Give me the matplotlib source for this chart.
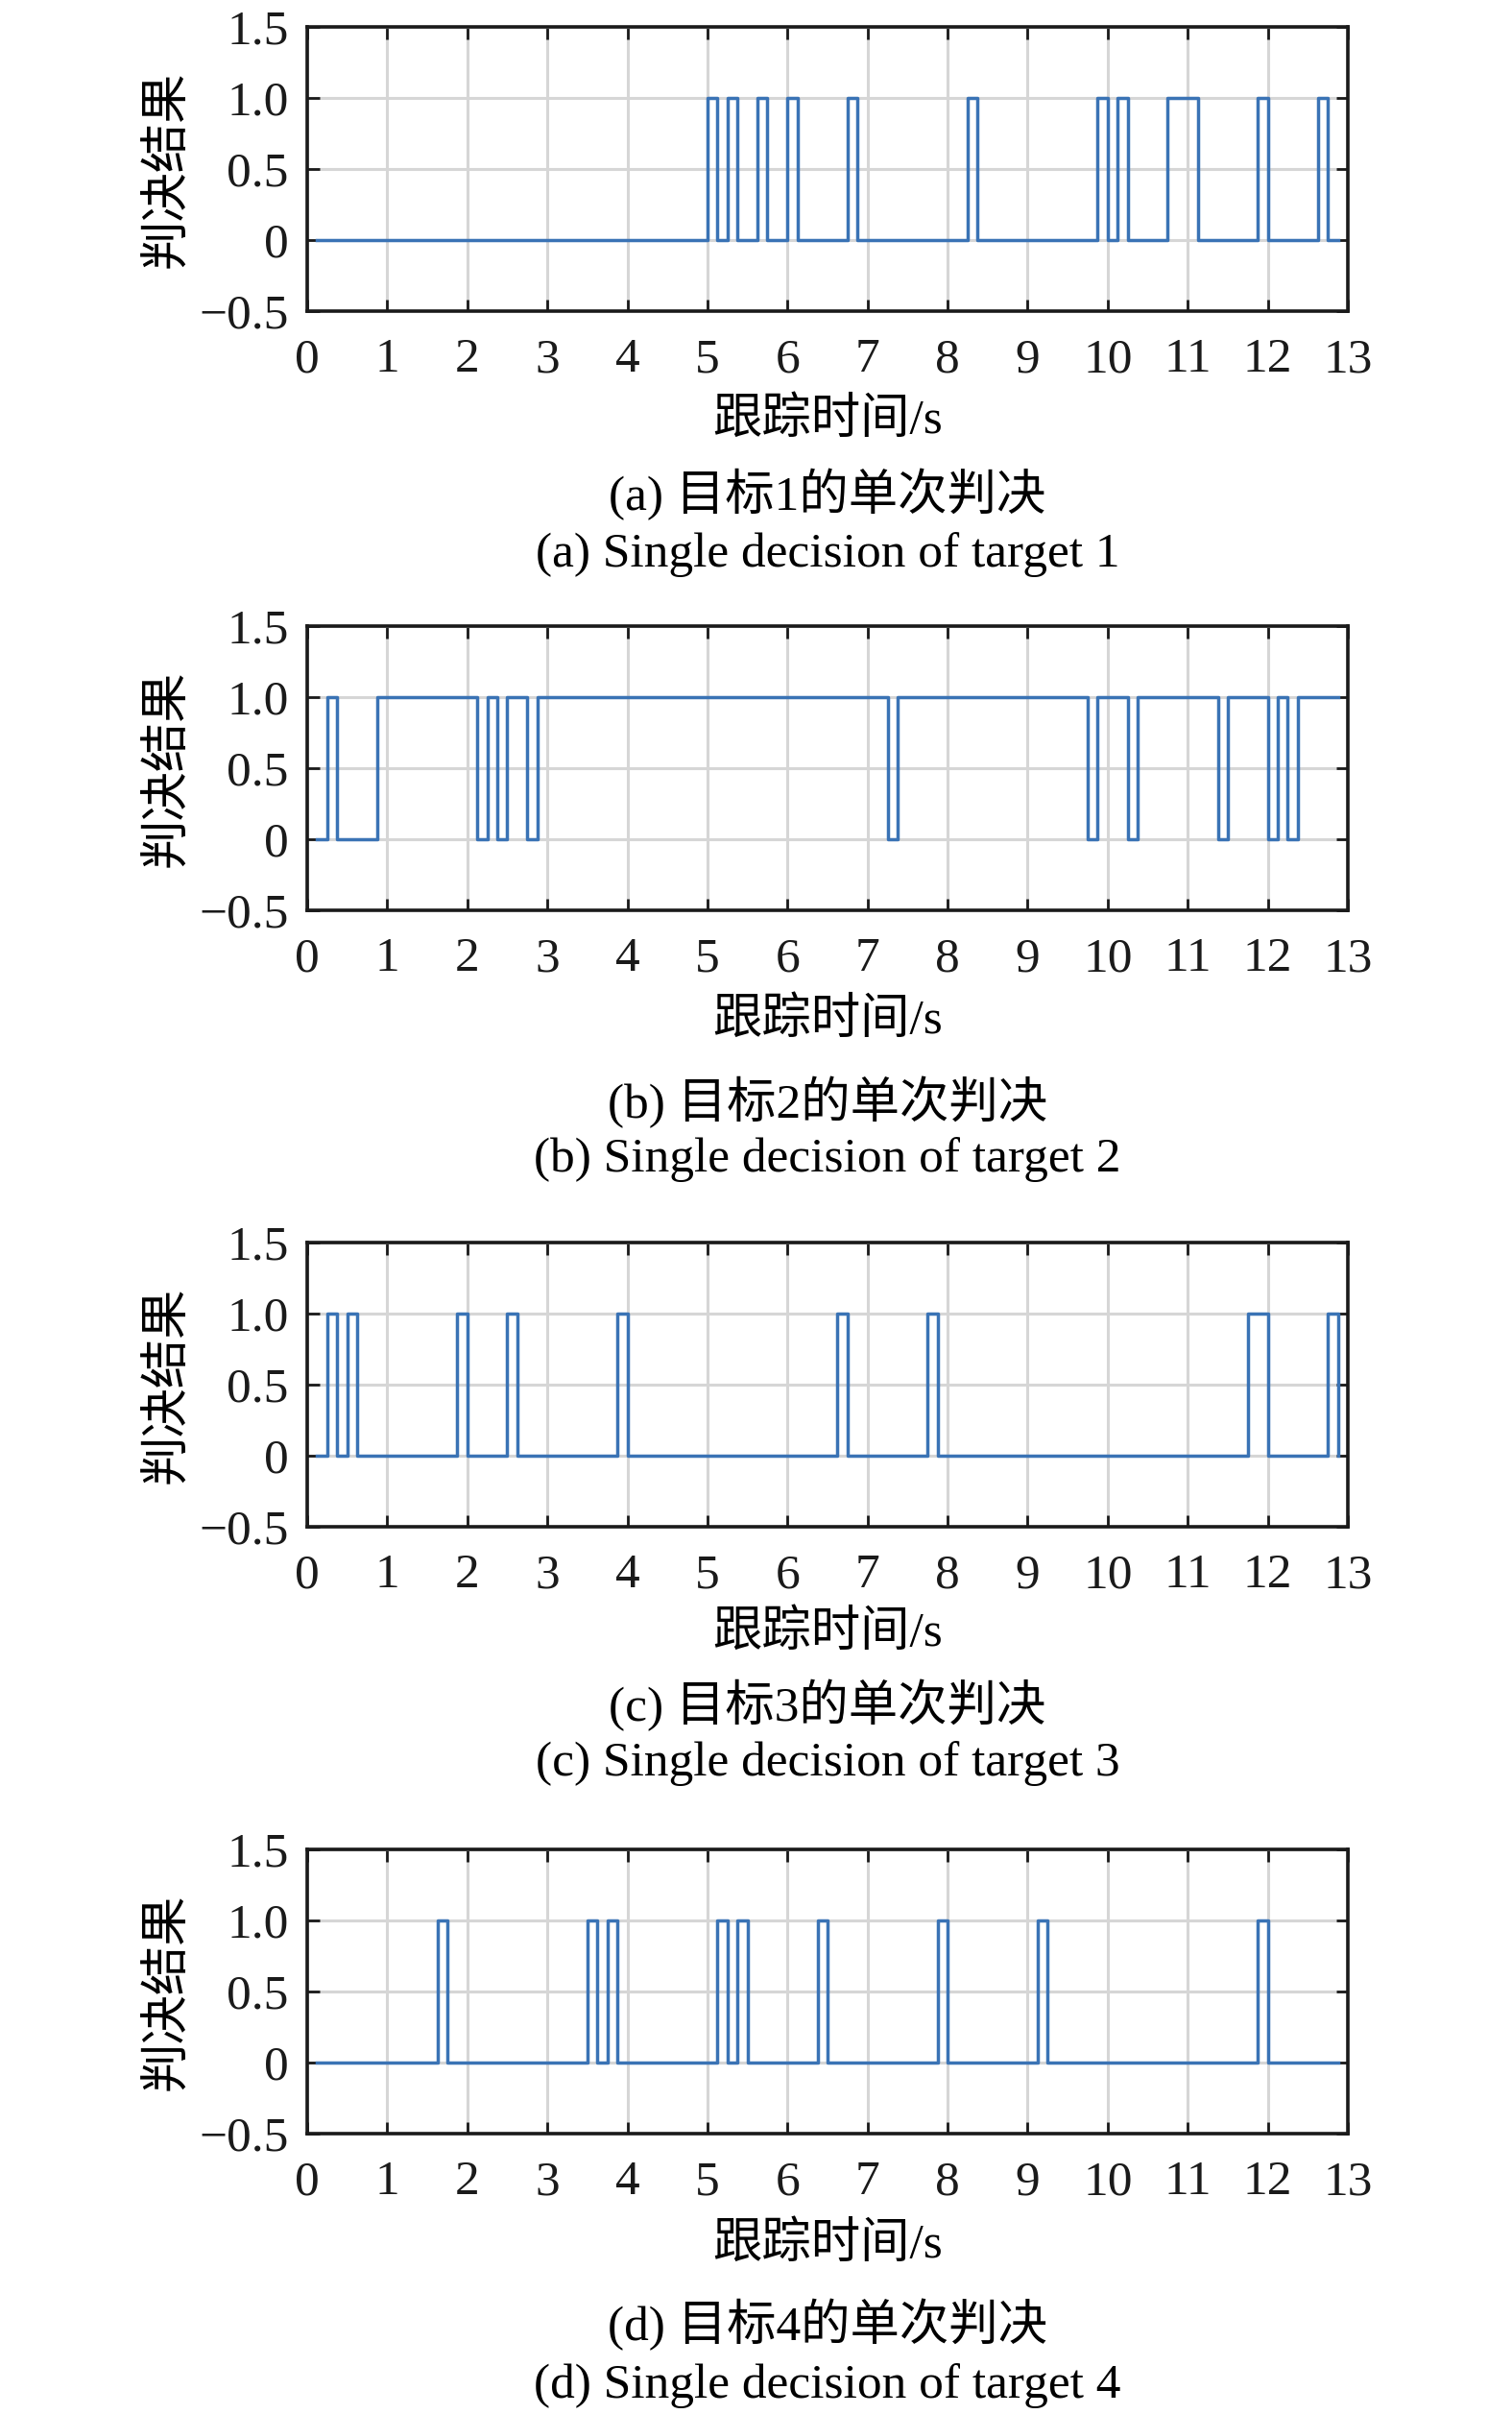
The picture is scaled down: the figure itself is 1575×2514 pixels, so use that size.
import numpy as np
import matplotlib
matplotlib.use("Agg")
import matplotlib.pyplot as plt

plt.rcParams['font.family'] = ['Liberation Serif', 'Noto Sans CJK SC', 'DejaVu Sans']

# decision = 1 intervals (start, end) in seconds
target1_on = [(5.0, 5.125), (5.25, 5.375), (5.625, 5.75), (6.0, 6.125), (6.75, 6.875),
              (8.25, 8.375), (9.875, 10.0), (10.125, 10.25), (10.75, 11.125),
              (11.875, 12.0), (12.625, 12.75)]
target2_on = [(0.25, 0.375), (0.875, 2.125), (2.25, 2.375), (2.5, 2.75), (2.875, 7.25),
              (7.375, 9.75), (9.875, 10.25), (10.375, 11.375), (11.5, 12.0),
              (12.125, 12.25), (12.375, 13.0)]
target3_on = [(0.25, 0.375), (0.5, 0.625), (1.875, 2.0), (2.5, 2.625), (3.875, 4.0),
              (6.625, 6.75), (7.75, 7.875), (11.75, 12.0), (12.75, 12.875)]
target4_on = [(1.625, 1.75), (3.5, 3.625), (3.75, 3.875), (5.125, 5.25), (5.375, 5.5),
              (6.375, 6.5), (7.875, 8.0), (9.125, 9.25), (11.875, 12.0)]

all_on = [target1_on, target2_on, target3_on, target4_on]
letters = ['a', 'b', 'c', 'd']

x_ticks = list(range(0, 14))
y_ticks = [-0.5, 0, 0.5, 1.0, 1.5]
y_ticklabels = ['\u22120.5', '0', '0.5', '1.0', '1.5']

# sampling instants of the single decisions
t = np.arange(1, 104) * 0.125

# layout (pixels in a 1575 x 2514 picture)
W, H = 1575, 2514
ax_left, ax_right = 320, 1404
ax_tops = [28, 652, 1294, 1926]
ax_h = 296
xlabel_y = [438, 1063, 1701, 2338]
cn_y = [515, 1148, 1776, 2421]
en_y = [578, 1208, 1837, 2485]

line_color = '#3a73b5'
fs_tick = 37
fs_text = 37

fig = plt.figure(figsize=(W / 100, H / 100), dpi=100)
xc = (ax_left + ax_right) / 2 / W

for i, on in enumerate(all_on):
    bottom = 1 - (ax_tops[i] + ax_h) / H
    ax = fig.add_axes([ax_left / W, bottom, (ax_right - ax_left) / W, ax_h / H])

    vals = np.zeros(len(t))
    for a, b in on:
        vals[(t >= a) & (t < b)] = 1
    ax.plot(t, vals, drawstyle='steps-post', color=line_color, lw=2.5, zorder=3)

    ax.set_xlim(0, 13)
    ax.set_ylim(-0.5, 1.5)
    ax.set_xticks(x_ticks)
    ax.set_yticks(y_ticks)
    ax.set_yticklabels(y_ticklabels)
    ax.grid(True, color='#d6d6d6', lw=2.2)
    ax.set_axisbelow(True)
    ax.tick_params(direction='in', top=True, right=True, length=9, width=2,
                   labelsize=fs_tick, colors='#1a1a1a')
    ax.tick_params(axis='x', pad=20)
    ax.tick_params(axis='y', pad=14)
    for sp in ax.spines.values():
        sp.set_linewidth(2.6)
        sp.set_color('#1a1a1a')

    ax.set_ylabel('判决结果', fontsize=fs_text)
    ax.yaxis.set_label_coords((198 - ax_left) / (ax_right - ax_left), 0.5)

    fig.text(xc, 1 - xlabel_y[i] / H, '跟踪时间/s', fontsize=fs_text,
             ha='center', va='center')
    fig.text(xc, 1 - cn_y[i] / H, '(%s) 目标%d的单次判决' % (letters[i], i + 1),
             fontsize=fs_text, ha='center', va='center')
    fig.text(xc, 1 - en_y[i] / H, '(%s) Single decision of target %d' % (letters[i], i + 1),
             fontsize=fs_text, ha='center', va='center')

fig.savefig('out.png', dpi=100)
